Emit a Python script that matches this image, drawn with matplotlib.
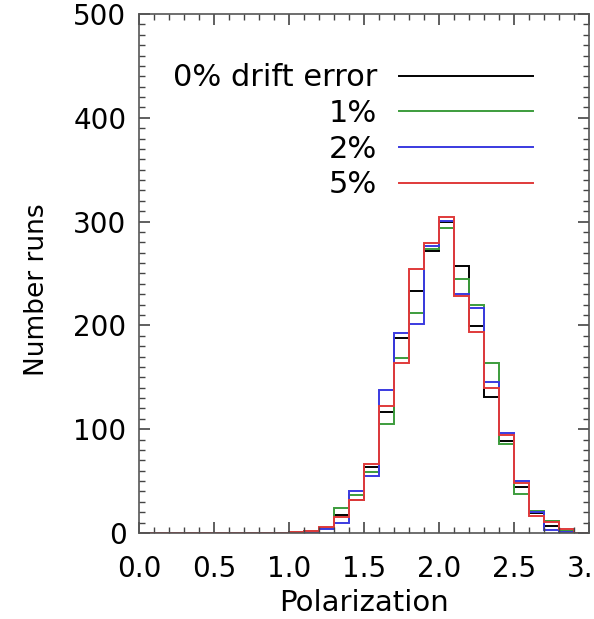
import numpy as np
import matplotlib
matplotlib.use("Agg")
import matplotlib.pyplot as plt
from matplotlib.ticker import MultipleLocator

# bin edges in polarization (0.0 .. 3.0, width 0.1)
edges = np.round(np.arange(0, 3.05, 0.1), 2)

# counts per bin (bins 0.0-1.0 are empty)
zeros = [0] * 10
drift0 = zeros + [0, 2, 5, 17, 32, 64, 117, 188, 233, 272, 300, 257, 199, 131, 89, 44, 19, 7, 2, 0]
drift1 = zeros + [1, 2, 5, 24, 37, 59, 105, 169, 212, 274, 294, 245, 220, 164, 86, 38, 21, 12, 2, 0]
drift2 = zeros + [0, 1, 4, 10, 40, 55, 138, 193, 201, 276, 301, 230, 217, 145, 96, 50, 20, 3, 1, 0]
drift5 = zeros + [1, 2, 6, 15, 32, 66, 122, 164, 254, 279, 304, 228, 194, 140, 94, 48, 16, 11, 4, 0]

labels = ["0% drift error", "1%", "2%", "5%"]
colors = ["black", "#3c9c3c", "#3a3ae0", "#e03a3a"]

fig = plt.figure(figsize=(5.94, 6.19), dpi=100)
ax = fig.add_axes([0.234, 0.139, 0.7576, 0.8384])

for vals, lab, col in zip([drift0, drift1, drift2, drift5], labels, colors):
    ax.stairs(vals, edges, color=col, lw=1.4, label=lab)

ax.set_xlim(0, 3.0)
ax.set_ylim(0, 500)
ax.xaxis.set_major_locator(MultipleLocator(0.5))
ax.xaxis.set_minor_locator(MultipleLocator(0.1))
ax.yaxis.set_major_locator(MultipleLocator(100))
ax.yaxis.set_minor_locator(MultipleLocator(10))
ax.xaxis.set_major_formatter(matplotlib.ticker.FormatStrFormatter("%.1f"))

ax.tick_params(which="both", direction="in", top=True, right=True, color="#444444")
ax.tick_params(which="major", length=8, width=1.2)
ax.tick_params(which="minor", length=4, width=1.0)
ax.tick_params(axis="x", labelsize=20, pad=16)
ax.tick_params(axis="y", labelsize=20, pad=9)
for s in ax.spines.values():
    s.set_color("#555555")
    s.set_linewidth(1.2)

ax.set_xlabel("Polarization", fontsize=21, labelpad=4)
ax.set_ylabel("Number runs", fontsize=19)
ax.yaxis.set_label_coords(-0.198, 0.468)

ax.legend(loc="upper right", bbox_to_anchor=(0.8756, 0.905), frameon=False,
          fontsize=22, markerfirst=False, handlelength=4.4, handletextpad=0.7,
          labelspacing=0.22, borderpad=0, borderaxespad=0)

fig.savefig("out.png", dpi=100)
